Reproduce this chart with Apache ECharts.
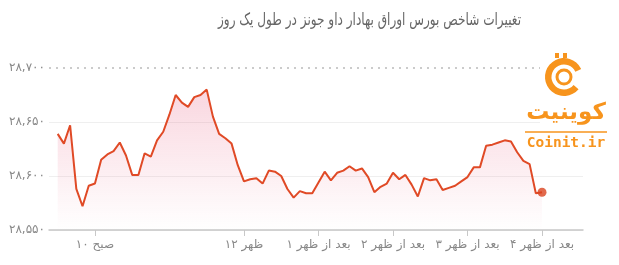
<!DOCTYPE html>
<html><head><meta charset="utf-8">
<script src="https://cdn.jsdelivr.net/npm/echarts@6/dist/echarts.min.js"></script>
<style>html,body{margin:0;padding:0;background:#fff}#c{width:619px;height:265px}</style>
</head><body><div id="c"></div>
<script>
// Dow Jones index, one value every 5 minutes from 9:30 to 16:00
const startMinute = 570; // 9:30
const stepMinutes = 5;
const values = [
  28639, 28630, 28647, 28588, 28572, 28591, 28593, 28615, 28620, 28623,
  28631, 28619, 28601, 28601, 28621, 28618, 28633, 28641, 28657, 28675,
  28668, 28664, 28673, 28675, 28680, 28655, 28639, 28635, 28630, 28610,
  28595, 28597, 28598, 28593, 28605, 28604, 28600, 28588, 28580, 28586,
  28584, 28584, 28594, 28604, 28596, 28603, 28605, 28609, 28605, 28607,
  28599, 28585, 28590, 28593, 28603, 28597, 28601, 28592, 28581, 28598,
  28596, 28597, 28587, 28589, 28591, 28595, 28599, 28608, 28608, 28628,
  28629, 28631, 28633, 28632, 28622, 28614, 28611, 28584, 28585
];
const times = values.map((_, i) => startMinute + i * stepMinutes);
const tickTimes = [600, 720, 780, 840, 900, 960];
const tickLabels = ['۱۰ صبح', '۱۲ ظهر', '۱ بعد از ظهر', '۲ بعد از ظهر', '۳ بعد از ظهر', '۴ بعد از ظهر'];
const yTicks = [28550, 28600, 28650, 28700];
const titleText = 'تغییرات شاخص بورس اوراق بهادار داو جونز در طول یک روز';
const logoFa = 'کوینیت';
const logoEn = 'Coinit.ir';

const faDigits = '۰۱۲۳۴۵۶۷۸۹';
function toFa(v) {
  const s = Math.round(v).toString().replace(/\B(?=(\d{3})+(?!\d))/g, ',');
  return s.replace(/\d/g, d => faDigits[+d]);
}

const ORANGE = '#f7941d';
const chart = echarts.init(document.getElementById('c'), null, {renderer: 'canvas'});
const last = values.length - 1;
chart.setOption({
  animation: false,
  textStyle: {fontFamily: 'DejaVu Sans'},
  grid: {left: 49, right: 36, top: 68, bottom: 35},
  xAxis: {
    type: 'value', min: 563, max: 993,
    axisLine: {lineStyle: {color: '#c8c8c8', width: 1.5}},
    axisTick: {customValues: tickTimes, length: 6, lineStyle: {color: '#c8c8c8'}},
    axisLabel: {customValues: tickTimes, color: '#888', fontSize: 12, margin: 9,
      formatter: v => tickLabels[tickTimes.indexOf(v)] || ''},
    splitLine: {show: false}
  },
  yAxis: {
    type: 'value', min: yTicks[0], max: yTicks[yTicks.length - 1], interval: 50,
    axisLine: {show: false}, axisTick: {show: false},
    axisLabel: {color: '#888', fontSize: 12, margin: 4, formatter: v => toFa(v)},
    splitLine: {lineStyle: {color: ['#efefef', '#efefef', '#efefef', 'rgba(0,0,0,0)']}}
  },
  series: [
    {
      type: 'line', data: times.map((t, i) => [t, values[i]]),
      symbol: 'none', z: 3,
      lineStyle: {color: '#e04a26', width: 2},
      areaStyle: {color: new echarts.graphic.LinearGradient(0, 0, 0, 1, [
        {offset: 0, color: 'rgba(232,90,125,0.35)'},
        {offset: 1, color: 'rgba(232,90,125,0)'}
      ])},
      markLine: {silent: true, symbol: 'none', label: {show: false},
        lineStyle: {color: '#bbb', type: [2, 5], width: 1.5},
        data: [{yAxis: yTicks[yTicks.length - 1]}]}
    },
    {
      type: 'scatter', data: [[times[last], values[last]]], symbolSize: 9, z: 4,
      itemStyle: {color: '#d9431f'}
    }
  ],
  graphic: [
    {type: 'text', x: 521, y: 21, scaleX: 0.71,
      style: {text: titleText, x: 0, y: 0, align: 'right', verticalAlign: 'middle',
      font: '17px "DejaVu Sans"', fill: '#666'}},
    {type: 'rect', shape: {x: 540, y: 50, width: 66, height: 104}, style: {fill: '#fff'}, z: 10},
    {type: 'sector', shape: {cx: 564, cy: 77, r: 19, r0: 12.5,
      startAngle: 40 * Math.PI / 180, endAngle: 335 * Math.PI / 180, clockwise: true},
      style: {fill: ORANGE}, z: 11},
    {type: 'circle', shape: {cx: 564, cy: 77, r: 7}, style: {fill: '#fff', stroke: ORANGE, lineWidth: 3}, z: 11},
    {type: 'rect', shape: {x: 555, y: 53, width: 4, height: 5}, style: {fill: ORANGE}, z: 11},
    {type: 'rect', shape: {x: 563, y: 53, width: 4, height: 5}, style: {fill: ORANGE}, z: 11},
    {type: 'text', style: {text: logoFa, x: 566, y: 113, align: 'center', verticalAlign: 'middle',
      font: 'bold 23px "DejaVu Sans"', fill: ORANGE}, z: 11},
    {type: 'line', shape: {x1: 525, y1: 132, x2: 607, y2: 132}, style: {stroke: ORANGE, lineWidth: 1.5}, z: 11},
    {type: 'text', style: {text: logoEn, x: 566, y: 143, align: 'center', verticalAlign: 'middle',
      font: 'bold 14.5px "DejaVu Sans Mono"', fill: ORANGE}, z: 11}
  ]
});
</script></body></html>
